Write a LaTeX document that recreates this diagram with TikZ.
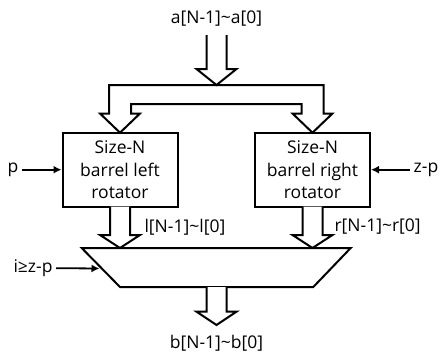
\documentclass[tikz,border=0pt]{standalone}
\usepackage{fontspec}
\setmainfont{Open Sans}
\usetikzlibrary{arrows.meta}

\begin{document}
\begin{tikzpicture}[x=1pt,y=-1pt,
  font=\fontsize{17.5}{22.7}\selectfont,
  blk/.style={draw,line width=2pt,fill=white},
  sig/.style={line width=1.8pt,-{Latex[length=8pt,width=8pt]}}]

  \useasboundingbox (0,0) rectangle (442,356);

  % ---- reference values (pixels, y measured down) ----
  \def\midX{216.5}    % centreline of input bus, mux and output bus
  \def\lX{120}        % left rotator centreline
  \def\rX{312.5}      % right rotator centreline
  \def\shaftW{10}     % half width of a bus shaft
  \def\headW{20}      % half width of a bus arrow head
  \def\splitW{11}     % half width of the split bus legs
  \def\rotY{169.7}    % rotator centre line
  \def\rotTop{132.7}
  \def\rotBot{206.7}
  \def\muxTop{248}
  \def\muxBot{287}

  % ---- split bus (a goes to both rotators) ----
  \draw[blk] (\lX-\splitW,113.5) -- (\lX-\splitW,85) -- (\rX+\splitW,85) -- (\rX+\splitW,113.5)
    -- (\rX+\headW,113.5) -- (\rX,\rotTop) -- (\rX-\headW,113.5) -- (\rX-\splitW,113.5)
    -- (\rX-\splitW,104) -- (\lX+\splitW,104) -- (\lX+\splitW,113.5) -- (\lX+\headW,113.5)
    -- (\lX,\rotTop) -- (\lX-\headW,113.5) -- cycle;

  % ---- input bus ----
  \node (ain) at (\midX,19) {a[N-1]\textasciitilde a[0]};
  \draw[blk] (\midX-\shaftW,35) -- (\midX-\shaftW,69) -- (\midX-\headW,69) -- (\midX,85)
    -- (\midX+\headW,69) -- (\midX+\shaftW,69) -- (\midX+\shaftW,35);

  % ---- rotators ----
  \node[blk,minimum width=115pt,minimum height=74pt,inner sep=0pt,align=center] (lrot)
    at (\lX,\rotY) {Size-N\\barrel left\\rotator};
  \node[blk,minimum width=115pt,minimum height=74pt,inner sep=0pt,align=center] (rrot)
    at (\rX,\rotY) {Size-N\\barrel right\\rotator};

  % shift amounts
  \node (p) at (13,\rotY) {p};
  \draw[sig] (p) -- (lrot);
  \node (zp) at (426,\rotY) {z-p};
  \draw[sig] (zp) -- (rrot);

  % ---- rotator outputs ----
  \draw[blk] (\lX-\shaftW,\rotBot) -- (\lX-\shaftW,235) -- (\lX-\headW,235) -- (\lX,\muxTop)
    -- (\lX+\headW,235) -- (\lX+\shaftW,235) -- (\lX+\shaftW,\rotBot);
  \draw[blk] (\rX-\shaftW,\rotBot) -- (\rX-\shaftW,235) -- (\rX-\headW,235) -- (\rX,\muxTop)
    -- (\rX+\headW,235) -- (\rX+\shaftW,235) -- (\rX+\shaftW,\rotBot);
  \node[anchor=west] (lbus) at (141,227) {l[N-1]\textasciitilde l[0]};
  \node[anchor=west] (rbus) at (331,227) {r[N-1]\textasciitilde r[0]};

  % ---- mux ----
  \draw[blk] (81.7,\muxTop) -- (350.7,\muxTop) -- (313.3,\muxBot) -- (120,\muxBot) -- cycle;
  \coordinate (muxin) at (99.5,268.5);
  \node (sel) at (33,268) {i≥z-p};
  \draw[sig] (sel) -- (muxin);

  % ---- output bus ----
  \draw[blk] (\midX-\shaftW,\muxBot) -- (\midX-\shaftW,311.7) -- (\midX-\headW,311.7) -- (\midX,325)
    -- (\midX+\headW,311.7) -- (\midX+\shaftW,311.7) -- (\midX+\shaftW,\muxBot);
  \node (bout) at (\midX,343) {b[N-1]\textasciitilde b[0]};

\end{tikzpicture}
\end{document}
